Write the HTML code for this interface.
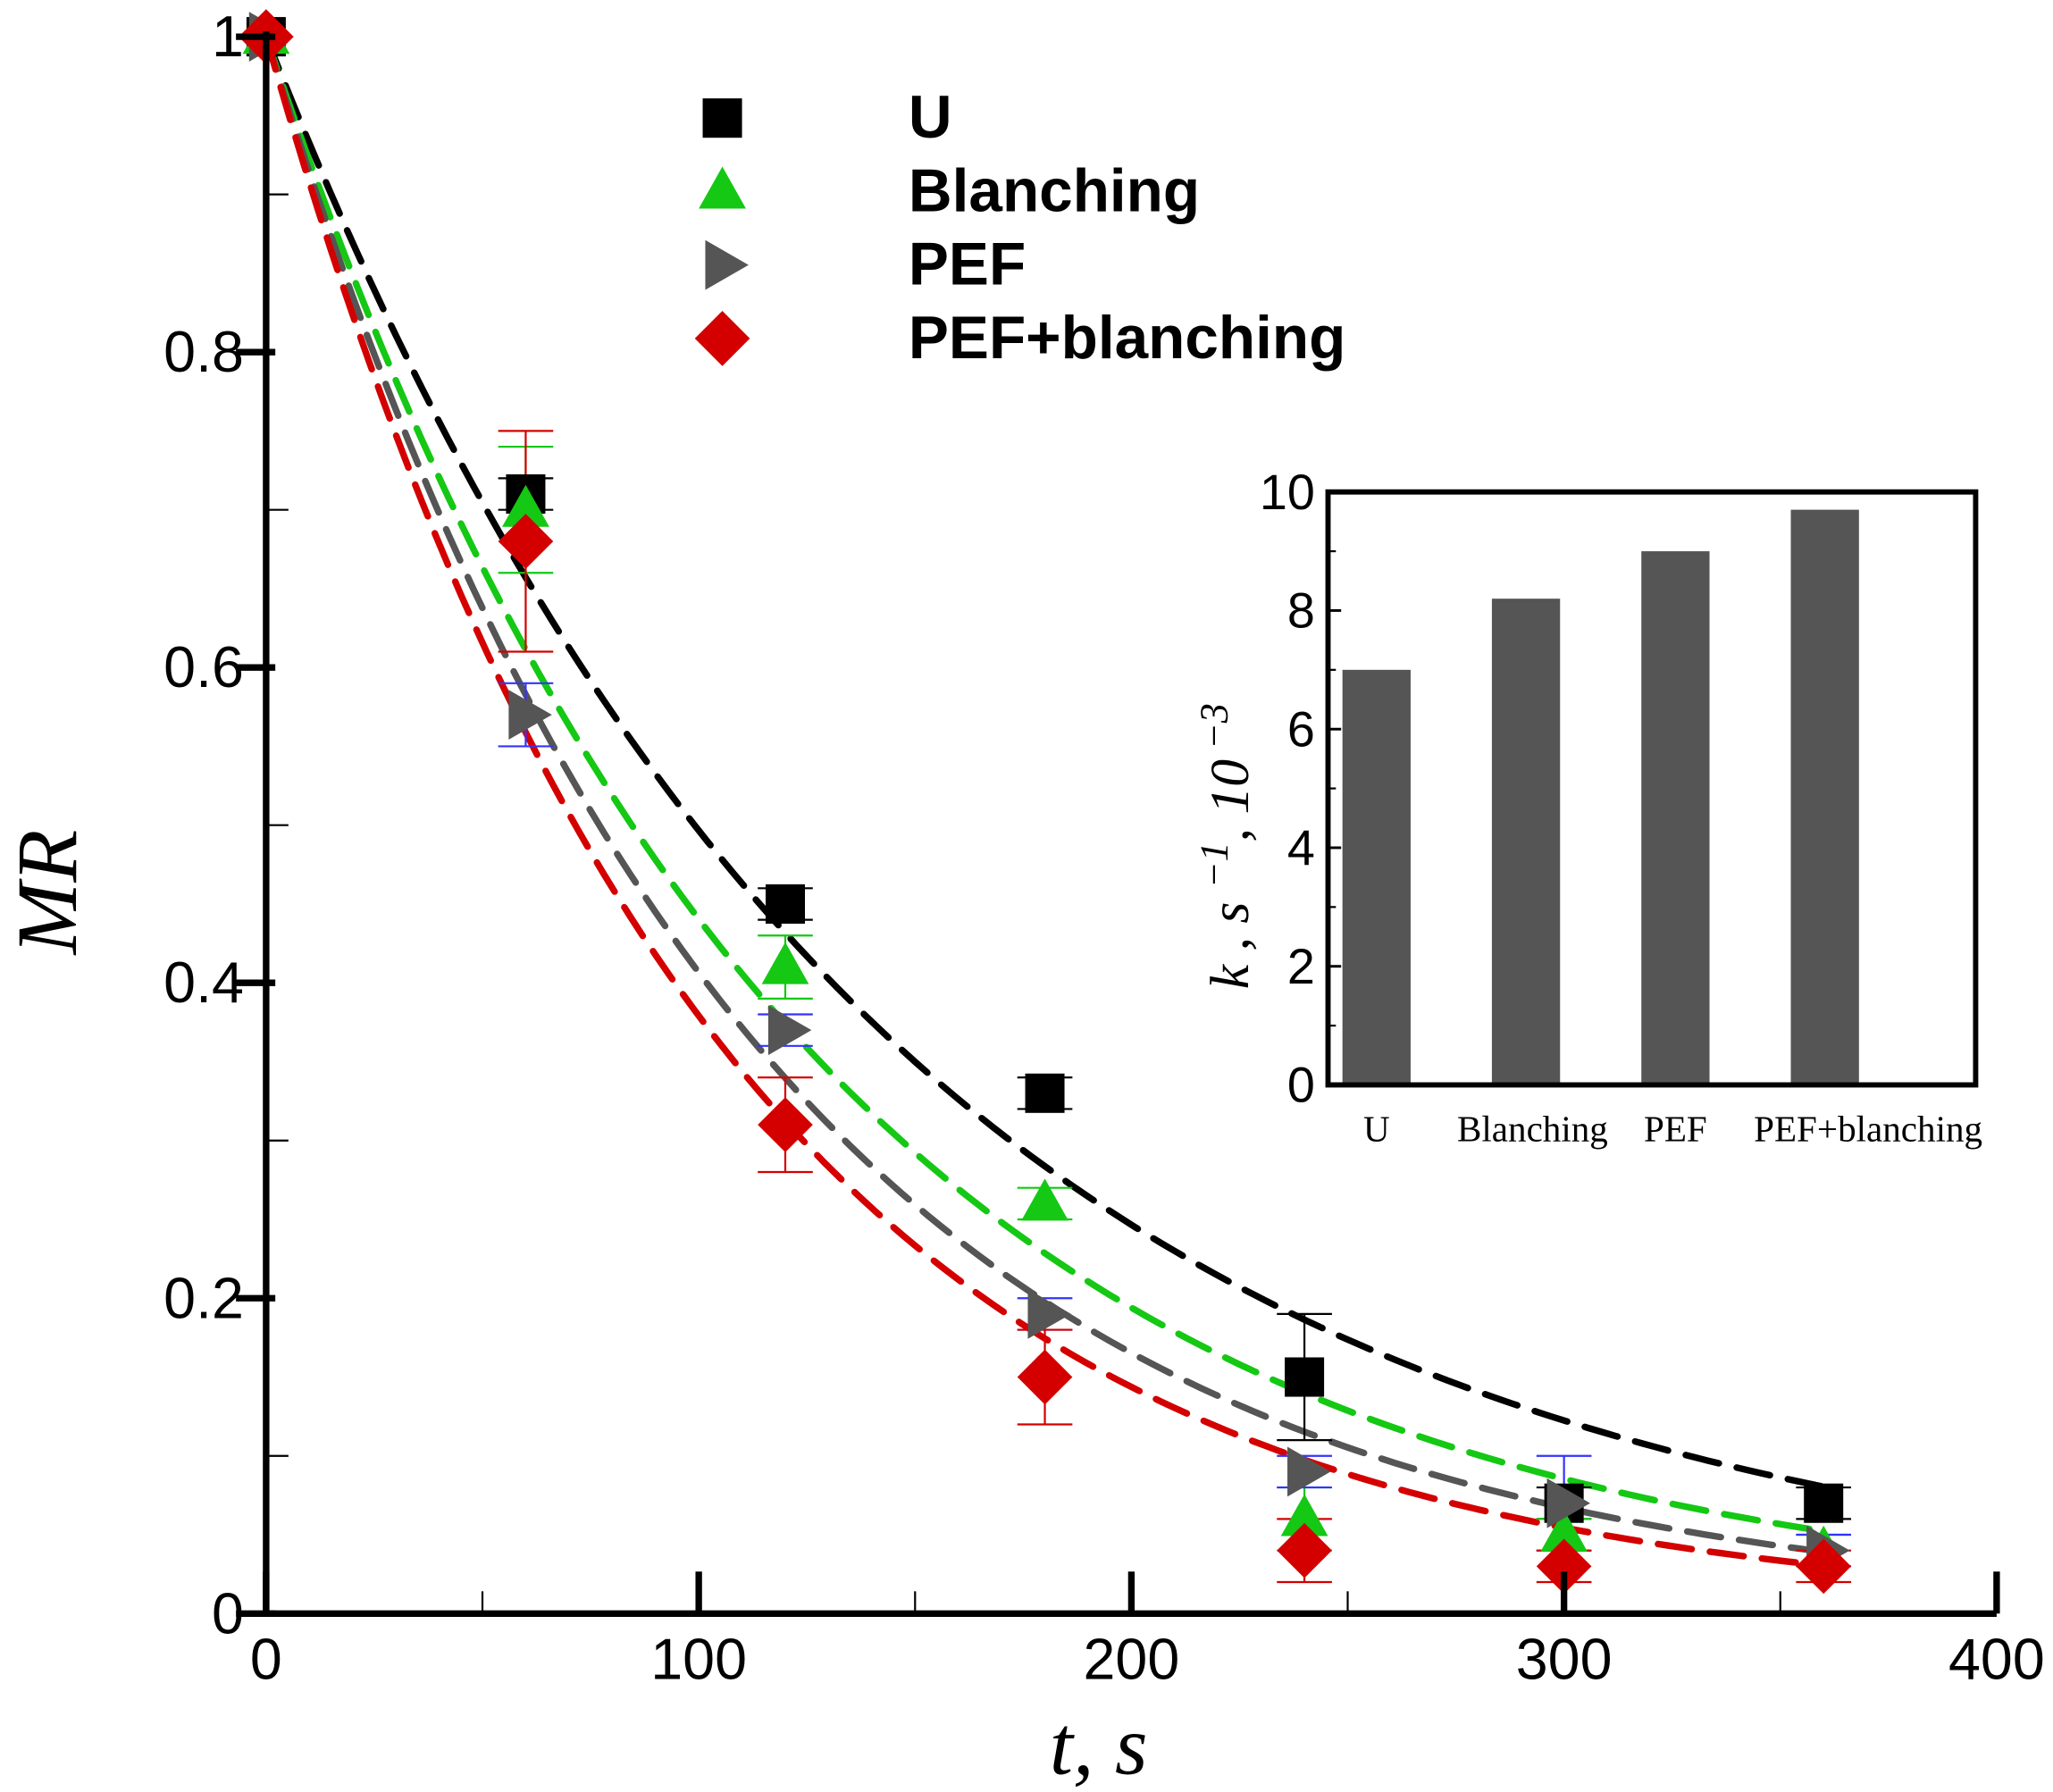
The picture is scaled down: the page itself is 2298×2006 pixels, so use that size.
<!DOCTYPE html>
<html><head><meta charset="utf-8"><style>
html,body{margin:0;padding:0;background:#fff;}
svg{display:block;}
.sans{font-family:"Liberation Sans",sans-serif;}
.serif{font-family:"Liberation Serif",serif;}
</style></head><body>
<svg id="chart" width="2298" height="2006" viewBox="0 0 1566 1366" preserveAspectRatio="none" xmlns="http://www.w3.org/2000/svg">
<g id="main"></g>
<g id="inset"></g>
</svg>
<script>
const times = [0, 60, 120, 180, 240, 300, 360];
const seriesNames = ["U", "Blanching", "PEF", "PEF+blanching"];
const mrU = [1.0, 0.71, 0.45, 0.33, 0.15, 0.07, 0.07];
const mrBlanching = [1.0, 0.70, 0.41, 0.26, 0.06, 0.05, 0.04];
const mrPEF = [1.0, 0.57, 0.37, 0.19, 0.09, 0.07, 0.04];
const mrPEFBlanching = [1.0, 0.68, 0.31, 0.15, 0.04, 0.03, 0.03];
const errU = [0, 0.01, 0.01, 0.01, 0.04, 0.01, 0.01];
const errBlanching = [0, 0.04, 0.02, 0.01, 0.02, 0.01, 0.01];
const errPEF = [0, 0.02, 0.01, 0.01, 0.01, 0.03, 0.01];
const errPEFBlanching = [0, 0.07, 0.03, 0.03, 0.02, 0.01, 0.01];
const kValues = [7.0, 8.2, 9.0, 9.7];
const xTicks = [0, 100, 200, 300, 400];
const yTicks = [0, 0.2, 0.4, 0.6, 0.8, 1];
const yTickLabels = ["0", "0.2", "0.4", "0.6", "0.8", "1"];
const insetYTicks = [0, 2, 4, 6, 8, 10];

const NS = "http://www.w3.org/2000/svg";
function mk(parent, tag, attrs, text) {
  const e = document.createElementNS(NS, tag);
  for (const k in attrs) e.setAttribute(k, attrs[k]);
  if (text !== undefined) e.textContent = text;
  parent.appendChild(e);
  return e;
}
const main = document.getElementById("main");
const inset = document.getElementById("inset");
const X0 = 203, X1 = 1523, Y0 = 1230, Y1 = 28;
const xs = t => X0 + (t / 400) * (X1 - X0);
const ys = v => Y0 - v * (Y0 - Y1);

const colors = ["#000000", "#14c814", "#555555", "#d40000"];
const data = [mrU, mrBlanching, mrPEF, mrPEFBlanching];
const errs = [errU, errBlanching, errPEF, errPEFBlanching];
const errColors = ["#000000", "#14c814", "#3333ff", "#d40000"];

data.forEach((d, s) => {
  let p = "";
  for (let t = 0; t <= 360; t += 3) {
    const v = Math.exp(-kValues[s] / 1000 * t);
    p += (t === 0 ? "M" : "L") + xs(t).toFixed(1) + "," + ys(v).toFixed(1);
  }
  const path = mk(main, "path", {d: p, fill: "none", stroke: colors[s], "stroke-width": 5, "stroke-dasharray": "26 14", "stroke-linecap": "round"});
  
  
});

errs.forEach((e, s) => {
  e.forEach((v, i) => {
    if (!v) return;
    const x = xs(times[i]), ya = ys(data[s][i] + v), yb = ys(data[s][i] - v);
    const g = mk(main, "g", {stroke: errColors[s], "stroke-width": 1.5});
    
    
    mk(g, "line", {x1: x, x2: x, y1: ya, y2: yb});
    mk(g, "line", {x1: x - 21, x2: x + 21, y1: ya, y2: ya});
    mk(g, "line", {x1: x - 21, x2: x + 21, y1: yb, y2: yb});
  });
});

function marker(parent, s, x, y) {
  let e;
  if (s === 0) e = mk(parent, "rect", {x: x - 15, y: y - 15, width: 30, height: 30, fill: colors[0]});
  else if (s === 1) e = mk(parent, "polygon", {points: `${x},${y-19} ${x+18},${y+13} ${x-18},${y+13}`, fill: colors[1]});
  else if (s === 2) e = mk(parent, "polygon", {points: `${x-13},${y-19} ${x+20},${y} ${x-13},${y+19}`, fill: colors[2]});
  else e = mk(parent, "polygon", {points: `${x},${y-21} ${x+21},${y} ${x},${y+21} ${x-21},${y}`, fill: colors[3]});
  return e;
}
data.forEach((d, s) => {
  d.forEach((v, i) => {
    const m = marker(main, s, xs(times[i]), ys(v));
    
    
  });
});

const ax = mk(main, "path", {d: `M${X0},${Y1-4} L${X0},${Y0} L${X1},${Y0}`, fill: "none", stroke: "#000", "stroke-width": 5});


yTicks.forEach((v, i) => {
  mk(main, "line", {x1: 180, x2: 210, y1: ys(v), y2: ys(v), stroke: "#000", "stroke-width": 5});
  const t = mk(main, "text", {x: 186, y: ys(v) + 15, "text-anchor": "end", "font-size": 44, class: "sans"}, yTickLabels[i]);
  
  
  if (i < yTicks.length - 1) mk(main, "line", {x1: 203, x2: 220, y1: ys(v + 0.1), y2: ys(v + 0.1), stroke: "#000", "stroke-width": 1.5});
});
xTicks.forEach((v, i) => {
  mk(main, "line", {x1: xs(v), x2: xs(v), y1: Y0, y2: Y0 - 32, stroke: "#000", "stroke-width": 5});
  const t = mk(main, "text", {x: xs(v), y: 1280, "text-anchor": "middle", "font-size": 44, class: "sans"}, String(v));
  
  
  if (i < xTicks.length - 1) mk(main, "line", {x1: xs(v + 50), x2: xs(v + 50), y1: Y0, y2: Y0 - 17, stroke: "#000", "stroke-width": 1.5});
});
const yt = mk(main, "text", {x: 0, y: 0, transform: "translate(58,680) rotate(-90)", "text-anchor": "middle", "font-size": 66, "font-style": "italic", class: "serif"}, "MR");


const xt = mk(main, "text", {x: 838, y: 1352, "text-anchor": "middle", "font-size": 64, "font-style": "italic", class: "serif"}, "t,  s");



const legendY = [90, 146, 202, 258];
seriesNames.forEach((n, s) => {
  const g = mk(main, "g", {});
  
  
  marker(g, s, 551, legendY[s]);
  mk(g, "text", {x: 693, y: legendY[s] + 15, "font-size": 46, "font-weight": "bold", class: "sans"}, n);
});

const IX0 = 1013, IX1 = 1507, IY0 = 827, IY1 = 375;
const iy = v => IY0 - v / 10 * (IY0 - IY1);
const barX = [1050, 1164, 1278, 1392];
kValues.forEach((k, i) => {
  const r = mk(inset, "rect", {x: barX[i] - 26, y: iy(k), width: 52, height: IY0 - iy(k), fill: "#555555"});
  
  
  const l = mk(inset, "text", {x: barX[i] + (i === 1 ? 5 : i === 3 ? 33 : 0), y: 870, "text-anchor": "middle", "font-size": 28, class: "serif"}, seriesNames[i]);
  
  
});
const box = mk(inset, "rect", {x: IX0, y: IY1, width: IX1 - IX0, height: IY0 - IY1, fill: "none", stroke: "#000", "stroke-width": 4});


insetYTicks.forEach((v, i) => {
  mk(inset, "line", {x1: IX0, x2: IX0 + 10, y1: iy(v), y2: iy(v), stroke: "#000", "stroke-width": 2});
  const t = mk(inset, "text", {x: 1003, y: iy(v) + 13, "text-anchor": "end", "font-size": 38, class: "sans"}, String(v));
  
  
  if (i < insetYTicks.length - 1) mk(inset, "line", {x1: IX0, x2: IX0 + 6, y1: iy(v + 1), y2: iy(v + 1), stroke: "#000", "stroke-width": 1.5});
});
const it = mk(inset, "text", {x: 0, y: 0, transform: "translate(952,645) rotate(-90)", "text-anchor": "middle", "font-size": 42, "font-style": "italic", class: "serif"});


it.innerHTML = 'k , s <tspan dy="-16" font-size="30">−1</tspan><tspan dy="16">, 10</tspan><tspan dy="-16" font-size="30"> −3</tspan>';
</script>
</body></html>
